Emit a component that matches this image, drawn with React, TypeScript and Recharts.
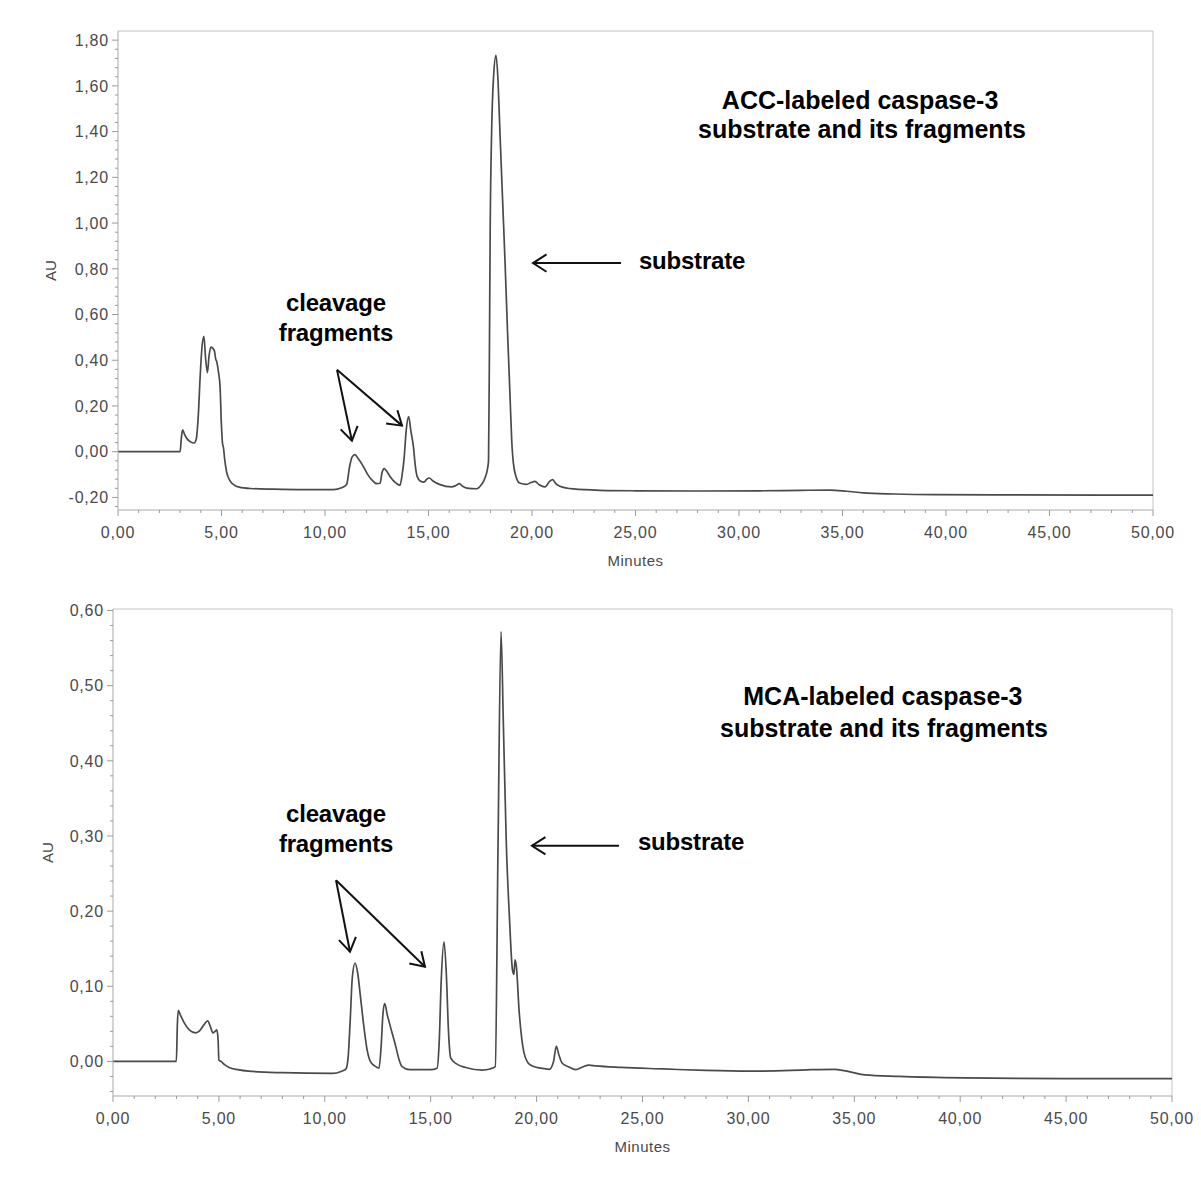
import React from 'react';
import { LineChart, Line, XAxis, YAxis, ReferenceLine, Label } from 'recharts';

const FONT = '"Liberation Sans", Arial, Helvetica, sans-serif';

// ---- ACC-labeled trace: [minutes, AU] ----
const accTrace: [number, number][] = [
  [0, 0], [2.5, 0], [3.0, 0], [3.06, 0.06], [3.12, 0.096], [3.22, 0.075], [3.35, 0.055], [3.5, 0.043],
  [3.68, 0.038], [3.78, 0.055], [3.88, 0.16], [3.97, 0.33], [4.06, 0.46], [4.15, 0.505], [4.23, 0.41],
  [4.32, 0.346], [4.4, 0.42], [4.49, 0.457], [4.58, 0.452], [4.66, 0.44], [4.72, 0.405], [4.77, 0.394],
  [4.85, 0.35], [4.93, 0.285], [4.99, 0.13], [5.05, 0.035], [5.1, 0.015], [5.15, -0.03], [5.25, -0.09],
  [5.4, -0.125], [5.6, -0.145], [5.85, -0.155], [6.4, -0.161], [7.5, -0.164], [9.0, -0.166], [10.4, -0.166],
  [10.8, -0.158], [11.05, -0.142], [11.18, -0.07], [11.3, -0.025], [11.45, -0.013], [11.6, -0.03],
  [11.85, -0.064], [12.05, -0.098], [12.25, -0.122], [12.5, -0.14], [12.66, -0.138], [12.76, -0.09],
  [12.86, -0.074], [13.0, -0.088], [13.14, -0.108], [13.4, -0.135], [13.62, -0.147], [13.72, -0.105],
  [13.82, -0.03], [13.93, 0.1], [14.04, 0.154], [14.15, 0.09], [14.27, 0.023], [14.36, -0.06],
  [14.45, -0.108], [14.6, -0.128], [14.78, -0.133], [14.92, -0.12], [15.04, -0.115], [15.2, -0.127],
  [15.56, -0.144], [16.12, -0.154], [16.32, -0.148], [16.49, -0.14], [16.65, -0.151], [16.85, -0.159],
  [17.33, -0.162], [17.55, -0.145], [17.73, -0.115], [17.85, -0.075], [17.9, -0.04], [17.94, 0.4],
  [17.98, 0.97], [18.05, 1.4], [18.15, 1.65], [18.26, 1.734], [18.36, 1.62], [18.45, 1.4], [18.58, 1.1],
  [18.7, 0.824], [18.82, 0.52], [18.94, 0.24], [19.02, 0.05], [19.1, -0.05], [19.25, -0.115],
  [19.4, -0.137], [19.74, -0.143], [19.95, -0.135], [20.14, -0.13], [20.35, -0.145], [20.63, -0.154],
  [20.85, -0.13], [21.0, -0.122], [21.15, -0.14], [21.35, -0.151], [22.0, -0.163], [23.3, -0.169],
  [25, -0.171], [28, -0.172], [31, -0.171], [33, -0.169], [34.4, -0.168], [35.2, -0.173], [36, -0.18],
  [37.5, -0.185], [39.4, -0.188], [43, -0.189], [50, -0.19],
];

// ---- MCA-labeled trace: [minutes, AU] ----
const mcaTrace: [number, number][] = [
  [0, 0], [2.5, 0], [2.99, 0], [3.04, 0.05], [3.08, 0.068], [3.18, 0.062], [3.35, 0.052], [3.6, 0.042],
  [3.9, 0.038], [4.1, 0.041], [4.3, 0.049], [4.47, 0.054], [4.6, 0.046], [4.72, 0.038], [4.82, 0.04],
  [4.9, 0.042], [4.96, 0.03], [5.0, 0.002], [5.1, 0.0], [5.25, -0.004], [5.48, -0.008], [5.9, -0.011],
  [6.4, -0.013], [8.0, -0.015], [10.35, -0.016], [10.8, -0.013], [11.0, -0.01], [11.1, 0.005],
  [11.2, 0.055], [11.3, 0.112], [11.43, 0.131], [11.55, 0.118], [11.7, 0.082], [11.85, 0.045],
  [12.0, 0.015], [12.15, 0.0], [12.35, -0.006], [12.56, -0.009], [12.66, 0.02], [12.75, 0.065],
  [12.83, 0.077], [12.95, 0.062], [13.1, 0.046], [13.35, 0.02], [13.5, 0.003], [13.65, -0.007],
  [14.0, -0.011], [15.0, -0.011], [15.3, -0.009], [15.4, 0.025], [15.5, 0.11], [15.63, 0.159],
  [15.74, 0.115], [15.84, 0.04], [15.94, 0.005], [16.2, -0.003], [16.65, -0.008], [17.43, -0.0115],
  [17.8, -0.01], [18.05, -0.007], [18.18, 0.29], [18.32, 0.572], [18.43, 0.45], [18.57, 0.29],
  [18.72, 0.19], [18.86, 0.122], [18.93, 0.116], [18.98, 0.135], [19.05, 0.125], [19.17, 0.069],
  [19.3, 0.03], [19.4, 0.012], [19.6, -0.002], [19.8, -0.006], [20.2, -0.009], [20.6, -0.0105],
  [20.8, 0.0], [20.93, 0.02], [21.05, 0.009], [21.2, -0.002], [21.5, -0.007], [21.85, -0.011],
  [22.2, -0.007], [22.47, -0.005], [22.8, -0.006], [24, -0.008], [26, -0.01], [28, -0.012], [30, -0.013],
  [32, -0.012], [33, -0.011], [34.1, -0.0105], [34.8, -0.014], [35.5, -0.018], [37.1, -0.02],
  [40.2, -0.022], [45, -0.023], [50, -0.023],
];

// ---- ticks ----
const xMajorTicks = [0, 5, 10, 15, 20, 25, 30, 35, 40, 45, 50];
const accYMajorTicks = [-0.2, 0, 0.2, 0.4, 0.6, 0.8, 1.0, 1.2, 1.4, 1.6, 1.8];
const mcaYMajorTicks = [0, 0.1, 0.2, 0.3, 0.4, 0.5, 0.6];
const xMinorStep = 1;
const accYMinorStep = 0.04;
const mcaYMinorStep = 0.02;

// ---- annotations ----
const accLabels = [
  { text: 'ACC-labeled caspase-3', t: 35.85, v: 1.537, title: true },
  { text: 'substrate and its fragments', t: 35.94, v: 1.41, title: true },
  { text: 'cleavage', t: 10.53, v: 0.651, title: false },
  { text: 'fragments', t: 10.53, v: 0.52, title: false },
  { text: 'substrate', t: 27.73, v: 0.838, title: false },
];
const accArrows = [
  { from: [24.3, 0.825], to: [20.05, 0.825] },
  { from: [10.58, 0.358], to: [11.3, 0.048] },
  { from: [10.58, 0.358], to: [13.72, 0.114] },
];
const mcaLabels = [
  { text: 'MCA-labeled caspase-3', t: 36.35, v: 0.486, title: true },
  { text: 'substrate and its fragments', t: 36.4, v: 0.444, title: true },
  { text: 'cleavage', t: 10.53, v: 0.33, title: false },
  { text: 'fragments', t: 10.53, v: 0.29, title: false },
  { text: 'substrate', t: 27.29, v: 0.293, title: false },
];
const mcaArrows = [
  { from: [23.89, 0.287], to: [19.78, 0.287] },
  { from: [10.53, 0.241], to: [11.19, 0.146] },
  { from: [10.53, 0.241], to: [14.73, 0.126] },
];

const range = (min: number, max: number, step: number) => {
  const out: number[] = [];
  const n = Math.round((max - min) / step);
  for (let i = 0; i <= n; i++) out.push(Math.round((min + i * step) * 10000) / 10000);
  return out;
};
const isMajor = (v: number, majors: number[]) => majors.some((m) => Math.abs(m - v) < 1e-6);
const fmt = (v: number) => v.toFixed(2).replace('.', ',');

const TICK_COLOR = '#9a9a9a';
const LABEL_COLOR = '#4a4a4a';

const makeYTick = (majors: number[]) => (props: any) => {
  const { x, y, payload } = props;
  const v = payload.value;
  const major = isMajor(v, majors);
  const len = major ? 6 : 3;
  return (
    <g>
      <line x1={x - len} x2={x} y1={y} y2={y} stroke={TICK_COLOR} strokeWidth={1} />
      {major && (
        <text x={x - len - 3} y={y} dy="0.36em" textAnchor="end" fill={LABEL_COLOR}
          fontSize={16} fontFamily={FONT} letterSpacing={0.8}>{fmt(v)}</text>
      )}
    </g>
  );
};

const xTick = (props: any) => {
  const { x, y, payload } = props;
  const v = payload.value;
  const major = isMajor(v, xMajorTicks);
  const len = major ? 6 : 3;
  return (
    <g>
      <line x1={x} x2={x} y1={y} y2={y + len} stroke={TICK_COLOR} strokeWidth={1} />
      {major && (
        <text x={x} y={y + 28} textAnchor="middle" fill={LABEL_COLOR}
          fontSize={16} fontFamily={FONT} letterSpacing={0.8}>{fmt(v)}</text>
      )}
    </g>
  );
};

const arrowShape = (p: any) => {
  const { x1, y1, x2, y2 } = p;
  const ang = Math.atan2(y2 - y1, x2 - x1);
  const L = 16;
  const h = Math.PI / 5.5;
  const a1x = x2 - L * Math.cos(ang - h);
  const a1y = y2 - L * Math.sin(ang - h);
  const a2x = x2 - L * Math.cos(ang + h);
  const a2y = y2 - L * Math.sin(ang + h);
  return (
    <g>
      <line x1={x1} y1={y1} x2={x2} y2={y2} stroke="#111" strokeWidth={2} />
      <polyline points={`${a1x},${a1y} ${x2},${y2} ${a2x},${a2y}`} fill="none" stroke="#111" strokeWidth={2} />
    </g>
  );
};

const textShape = (text: string, title: boolean) => (p: any) => (
  <text x={p.x1} y={p.y1} dominantBaseline="central" textAnchor="middle" fill="#000"
    fontSize={title ? 25 : 24} fontWeight={700} fontFamily={FONT} letterSpacing={title ? 0 : -0.2}>{text}</text>
);

const axisLabelX = (props: any) => {
  const vb = props.viewBox;
  return (
    <text x={vb.x + vb.width / 2} y={vb.y + 50} dominantBaseline="central" textAnchor="middle"
      fill={LABEL_COLOR} fontSize={15} fontFamily={FONT} letterSpacing={0.5}>Minutes</text>
  );
};
const makeAxisLabelY = (dx: number) => (props: any) => {
  const vb = props.viewBox;
  const cx = vb.x + dx;
  const cy = vb.y + vb.height / 2;
  return (
    <text x={cx} y={cy} transform={`rotate(-90, ${cx}, ${cy})`} dominantBaseline="central"
      textAnchor="middle" fill={LABEL_COLOR} fontSize={15} fontFamily={FONT}>AU</text>
  );
};

type PanelProps = {
  trace: [number, number][];
  yDomain: [number, number];
  yMajors: number[];
  yMinorStep: number;
  yMinorStart: number;
  labels: { text: string; t: number; v: number; title: boolean }[];
  arrows: { from: number[]; to: number[] }[];
  width: number;
  height: number;
  margin: { top: number; right: number; bottom: number; left: number };
  auDx: number;
};

const Panel = (p: PanelProps) => {
  const data = p.trace.map(([t, v]) => ({ t, v }));
  const yTicks = range(p.yMinorStart, p.yMajors[p.yMajors.length - 1], p.yMinorStep);
  const xTicks = range(0, 50, xMinorStep);
  return (
    <LineChart width={p.width} height={p.height} data={data} margin={p.margin}>
      <XAxis dataKey="t" type="number" domain={[0, 50]} ticks={xTicks} interval={0} allowDataOverflow
        tick={xTick} tickLine={false} tickSize={0} tickMargin={0} height={60}
        axisLine={{ stroke: '#aaa' }}>
        <Label content={axisLabelX} />
      </XAxis>
      <YAxis type="number" domain={p.yDomain} ticks={yTicks} interval={0} allowDataOverflow
        tick={makeYTick(p.yMajors)} tickLine={false} tickSize={0} tickMargin={0} width={80}
        axisLine={{ stroke: '#aaa' }}>
        <Label content={makeAxisLabelY(p.auDx)} />
      </YAxis>
      <ReferenceLine y={p.yDomain[1]} stroke="#c4c4c4" ifOverflow="visible" />
      <ReferenceLine x={50} stroke="#c4c4c4" ifOverflow="visible" />
      <Line dataKey="v" type="monotone" stroke="#4a4a4a" strokeWidth={1.7} dot={false}
        isAnimationActive={false} />
      {p.arrows.map((a, i) => (
        <ReferenceLine key={'a' + i} ifOverflow="visible"
          segment={[{ x: a.from[0], y: a.from[1] }, { x: a.to[0], y: a.to[1] }]}
          shape={arrowShape} />
      ))}
      {p.labels.map((l, i) => (
        <ReferenceLine key={'l' + i} ifOverflow="visible"
          segment={[{ x: l.t, y: l.v }, { x: l.t, y: l.v }]}
          shape={textShape(l.text, l.title)} />
      ))}
    </LineChart>
  );
};

export default function App() {
  return (
    <div style={{ position: 'absolute', left: 0, top: 0, width: 1201, height: 1178, background: '#fff' }}>
      <div style={{ position: 'absolute', left: 0, top: 0 }}>
        <Panel trace={accTrace} yDomain={[-0.255, 1.84]} yMajors={accYMajorTicks}
          yMinorStep={accYMinorStep} yMinorStart={-0.24} labels={accLabels} arrows={accArrows}
          width={1201} height={580} margin={{ top: 31, right: 48, bottom: 10, left: 38 }} auDx={12} />
      </div>
      <div style={{ position: 'absolute', left: 0, top: 580 }}>
        <Panel trace={mcaTrace} yDomain={[-0.046, 0.602]} yMajors={mcaYMajorTicks}
          yMinorStep={mcaYMinorStep} yMinorStart={-0.04} labels={mcaLabels} arrows={mcaArrows}
          width={1201} height={598} margin={{ top: 29, right: 29, bottom: 22, left: 33 }} auDx={14} />
      </div>
    </div>
  );
}
